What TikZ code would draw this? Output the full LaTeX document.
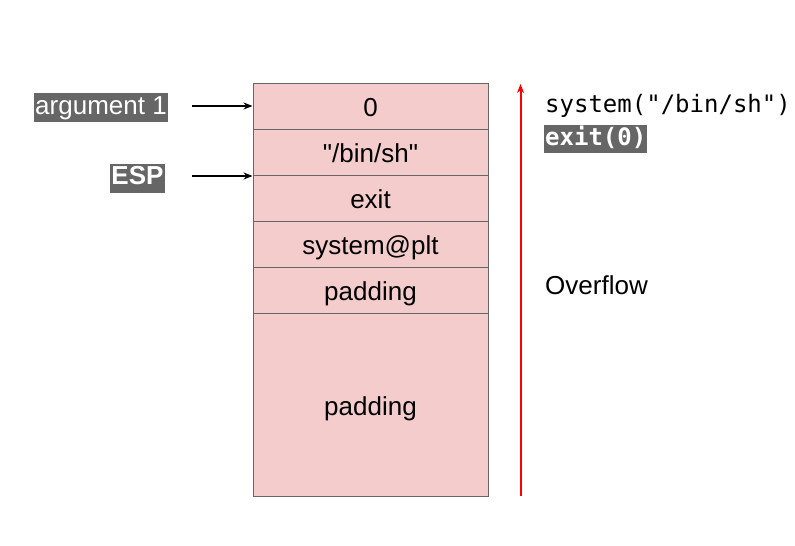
\documentclass[tikz,border=0pt]{standalone}
\usepackage{fontspec}
\setmainfont{Liberation Sans}
\newfontfamily\rawsans{Liberation Sans}
\newfontfamily\codefont{DejaVu Sans Mono}
\usetikzlibrary{arrows.meta}
\definecolor{cellpink}{HTML}{F4CCCC}
\definecolor{cellline}{HTML}{666666}
\definecolor{tagbg}{HTML}{666666}
\tikzset{
  cell/.style={draw=cellline, line width=1pt, fill=cellpink, minimum width=235pt, inner sep=0pt, text height=25pt, text depth=5pt, font=\rawsans\fontsize{26}{30}\selectfont, anchor=north},
  tag/.style={fill=tagbg, text=white, inner xsep=1pt, inner ysep=2.5pt, text height=18.5pt, text depth=5.5pt, font=\fontsize{26}{30}\selectfont},
  ptr/.style={-{Stealth[length=9pt,width=7pt]}, line width=1.6pt, black},
  plain/.style={font=\fontsize{26}{30}\selectfont, anchor=west, inner sep=0pt},
  code/.style={font=\codefont\fontsize{24}{28}\selectfont, anchor=west, inner sep=0pt}
}
\begin{document}
\begin{tikzpicture}[x=1pt,y=-1pt]
\useasboundingbox (0,0) rectangle (795,546);
\node[cell, minimum height=46pt] (c0) at (370.5,83) {0};
\node[cell, minimum height=46pt] (c1) at (370.5,129) {"/bin/sh"};
\node[cell, minimum height=46pt] (c2) at (370.5,175) {exit};
\node[cell, minimum height=46pt] (c3) at (370.5,221) {system@plt};
\node[cell, minimum height=46pt] (c4) at (370.5,267) {padding};
\node[cell, minimum height=183pt] (c5) at (370.5,313) {padding};

\node[tag] (arg) at (101,107.5) {argument 1};
\node[tag, font=\fontsize{26}{30}\selectfont\bfseries] (esp) at (137.5,178) {ESP};

\coordinate (a1s) at (192,106);
\coordinate (a2s) at (192,176);
\draw[ptr] (a1s) -- (c0.west |- a1s);
\draw[ptr] (a2s) -- (c0.west |- a2s);

\coordinate (ovb) at (520.5,496);
\coordinate (ovt) at (520.5,84);
\draw[red, line width=2pt, -{Stealth[length=9pt,width=7pt]}] (ovb) -- (ovt);

\node[code] (sys) at (545,106) {system("/bin/sh")};
\node[code, fill=tagbg, text=white, font=\codefont\fontsize{24}{28}\selectfont\bfseries, inner xsep=1pt, inner ysep=2.5pt, text height=18pt, text depth=5pt] (ex) at (544,138.5) {exit(0)};
\node[plain] (ovf) at (545,285) {Overflow};
\end{tikzpicture}
\end{document}
